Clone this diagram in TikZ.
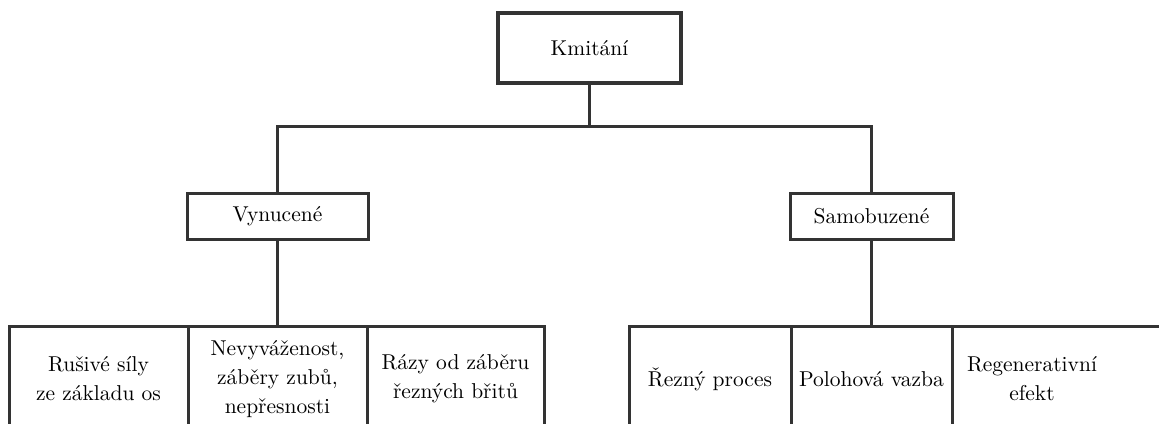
\documentclass[tikz,border=0pt]{standalone}
\usepackage{fontspec}
\IfFontExistsTF{lmroman10-regular.otf}{%
  \setmainfont{lmroman10-regular.otf}}{}
\definecolor{linecol}{HTML}{333333}
\begin{document}
\begin{tikzpicture}[x=1pt,y=1pt,
  base/.style={draw=linecol, fill=white, inner sep=0pt, outer sep=0pt, align=center,
    font=\rmfamily\fontsize{21.5}{29}\selectfont, text=black},
  topbox/.style={base, line width=4.5pt, minimum width=183, minimum height=70},
  midbox/.style={base, line width=3pt, minimum height=46},
  leaf/.style={base, line width=3pt, minimum height=106},
  leafopen/.style={base, draw=none, fill=none, minimum height=106},
  conn/.style={draw=linecol, line width=3pt}]
\useasboundingbox (0,0) rectangle (1159,-423);
\clip (0,0) rectangle (1159,-423);
\fill[white] (0,0) rectangle (1159,-423);

\node[topbox] (kmit) at (589.5,-48) {Kmitání};
\node[midbox, minimum width=181] (vyn) at (277.5,-216) {Vynucené};
\node[midbox, minimum width=163] (sam) at (871.5,-216) {Samobuzené};

\node[leaf, minimum width=179] (rus) at (98.5,-379) {Rušivé síly\\ze základu os};
\node[leaf, minimum width=179] (nev) at (277.5,-379) {Nevyváženost,\\záběry zubů,\\nepřesnosti};
\node[leaf, minimum width=177] (raz) at (455.5,-379) {Rázy od záběru\\řezných břitů};
\node[leaf, minimum width=162] (rez) at (710,-379) {Řezný proces};
\node[leaf, minimum width=161] (pol) at (871.5,-379) {Polohová vazba};
\node[leafopen, minimum width=161] (reg) at (1032,-379) {Regenerativní\\efekt};
\draw[conn] (reg.north west) -- (reg.north east) -- ++(80,0);

\coordinate (j) at (589.5,-126);
\draw[conn] (kmit.south) -- (j);
\draw[conn] (vyn.north) |- (j) -| (sam.north);
\draw[conn] (vyn.south) -- (nev.north);
\draw[conn] (sam.south) -- (pol.north);
\end{tikzpicture}
\end{document}
